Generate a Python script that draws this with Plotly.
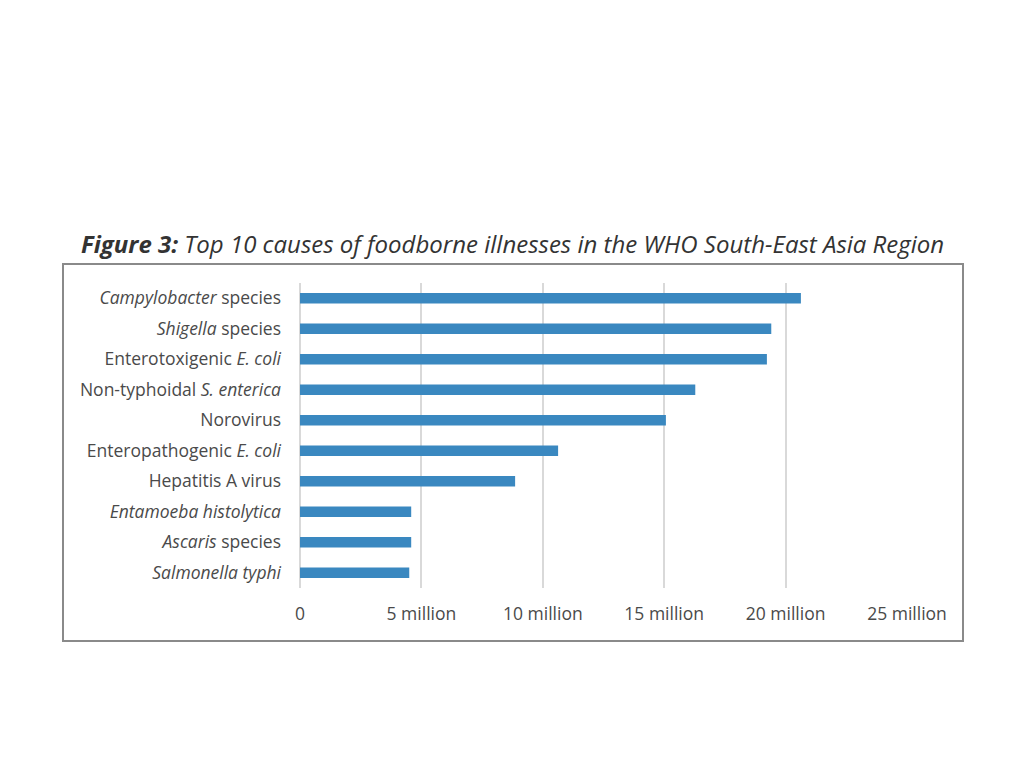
import plotly.graph_objects as go

categories = [
    "<i>Campylobacter</i> species",
    "<i>Shigella</i> species",
    "Enterotoxigenic <i>E. coli</i>",
    "Non-typhoidal <i>S. enterica</i>",
    "Norovirus",
    "Enteropathogenic <i>E. coli</i>",
    "Hepatitis A virus",
    "<i>Entamoeba histolytica</i>",
    "<i>Ascaris</i> species",
    "<i>Salmonella typhi</i>",
]
cases = [20.63e6, 19.41e6, 19.23e6, 16.28e6, 15.07e6, 10.63e6, 8.86e6, 4.58e6, 4.58e6, 4.5e6]
tick_vals = [0, 5e6, 10e6, 15e6, 20e6, 25e6]
tick_text = ["0", "5 million", "10 million", "15 million", "20 million", "25 million"]

font_family = "Open Sans"
text_color = "#4a4a4a"

# page has an 8px body offset
OFF = 8
L, R, T, B = 300 - OFF, 1024 - 907 + OFF, 283 - OFF, 768 - 588 + OFF
PW = 1024 - L - R
PH = 768 - T - B


def px(x):
    return (x - OFF - L) / PW


def py(y):
    return 1 - (y - OFF - T) / PH


fig = go.Figure(
    go.Bar(
        x=cases,
        y=categories,
        orientation="h",
        marker=dict(color="#3a88c0", line=dict(width=0)),
    )
)

fig.update_layout(
    width=1024,
    height=768,
    paper_bgcolor="white",
    plot_bgcolor="white",
    margin=dict(l=L, r=R, t=T, b=B),
    bargap=0.66,
    showlegend=False,
    font=dict(family=font_family, size=17.5, color=text_color),
    annotations=[
        dict(
            text="<b><i>Figure 3:</i></b><i> Top 10 causes of foodborne illnesses in the WHO South-East Asia Region</i>",
            xref="paper", yref="paper",
            x=px(79),
            y=py(243),
            xanchor="left", yanchor="middle",
            showarrow=False,
            font=dict(family=font_family, size=24, color="#333333"),
        )
    ],
    shapes=[
        dict(
            type="rect", xref="paper", yref="paper",
            x0=px(63), x1=px(963),
            y0=py(641), y1=py(264),
            line=dict(color="#8a8a8a", width=2),
            layer="below",
        )
    ],
)

fig.update_xaxes(
    range=[0, 25e6],
    tickvals=tick_vals,
    ticktext=tick_text,
    showgrid=True,
    gridcolor="#d9d9d9",
    gridwidth=1.5,
    zeroline=True,
    zerolinecolor="#d9d9d9",
    zerolinewidth=1.5,
    showline=False,
    ticks="",
    ticklabelstandoff=13,
    tickfont=dict(size=17.5, color=text_color),
)

fig.update_yaxes(
    categoryorder="array",
    categoryarray=categories[::-1],
    showgrid=False,
    showline=False,
    ticks="",
    ticklabelstandoff=18,
    tickfont=dict(size=17.5, color=text_color),
)

fig.write_html("out.html")
